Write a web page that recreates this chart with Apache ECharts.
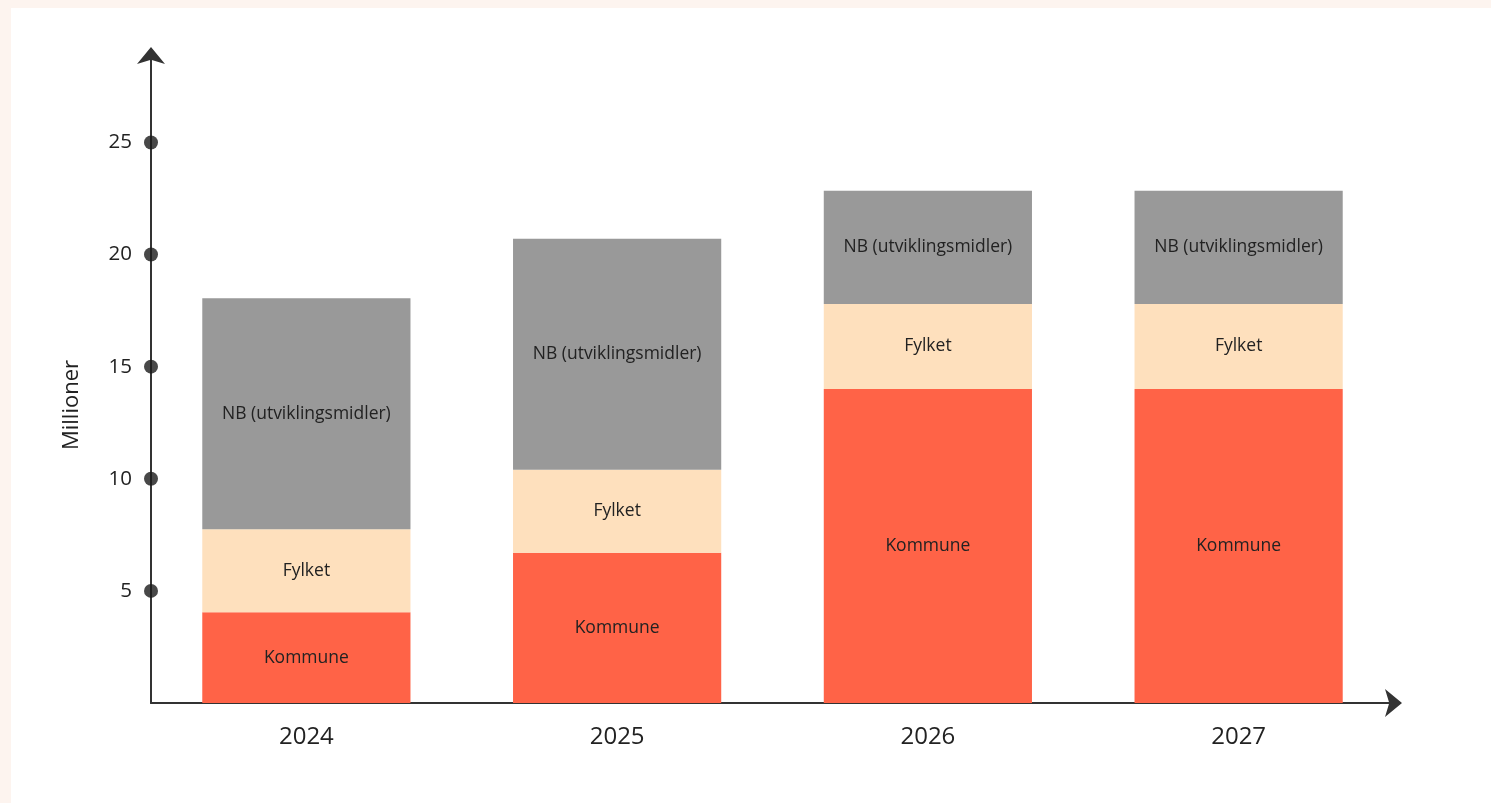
<!DOCTYPE html>
<html>
<head>
<meta charset="utf-8">
<script src="https://cdn.jsdelivr.net/npm/echarts@6/dist/echarts.min.js"></script>
<style>
  html, body { margin: 0; padding: 0; background: #fdf4ef; }
  #panel { position: absolute; left: 11px; top: 8px; right: 0; bottom: 0; background: #ffffff; }
  #chart { position: absolute; left: 0; top: 0; width: 1491px; height: 803px; }
</style>
</head>
<body>
<div id="panel"></div>
<div id="chart"></div>
<script>
const categories = ['2024', '2025', '2026', '2027'];
const kommune = [4.05, 6.7, 14.0, 14.0];
const fylket = [3.7, 3.7, 3.8, 3.8];
const nb = [10.3, 10.3, 5.05, 5.05];
const tickValues = [5, 10, 15, 20, 25];
const seriesNames = ['Kommune', 'Fylket', 'NB (utviklingsmidler)'];

const chart = echarts.init(document.getElementById('chart'), null, { renderer: 'canvas' });
const font = '"Open Sans", "Noto Sans", sans-serif';
const labelStyle = { show: true, position: 'inside', color: '#222', fontSize: 17.5, fontFamily: font };

chart.setOption({
  backgroundColor: 'transparent',
  textStyle: { fontFamily: font },
  animation: false,
  grid: { left: 151, right: 97, top: 55, bottom: 100, containLabel: false },
  xAxis: [{
    type: 'category',
    data: categories,
    boundaryGap: true,
    axisLine: { show: true, lineStyle: { color: '#333', width: 2 }, symbol: ['none', 'arrow'], symbolSize: [21, 17], symbolOffset: [0, 8] },
    axisTick: { show: false },
    axisLabel: { color: '#222', fontSize: 24, margin: 22, fontFamily: font }
  }, {
    type: 'value', min: 0, max: 1, show: false
  }],
  yAxis: {
    type: 'value',
    min: 0,
    max: 28.9,
    interval: 5,
    name: 'Millioner',
    nameLocation: 'middle',
    nameGap: 68,
    nameTextStyle: { color: '#222', fontSize: 22, fontFamily: font, padding: [0, 52, 0, 0] },
    axisLine: { show: true, lineStyle: { color: '#333', width: 2 }, symbol: ['none', 'arrow'], symbolSize: [21, 17], symbolOffset: [0, 8] },
    axisTick: { show: false },
    splitLine: { show: false },
    axisLabel: {
      color: '#222', fontSize: 20.5, margin: 19, fontFamily: font,
      showMaxLabel: false,
      formatter: v => (v > 0 && v % 5 === 0) ? String(v) : ''
    }
  },
  series: [
    { name: seriesNames[0], type: 'bar', stack: 'total', data: kommune, barWidth: '67%',
      itemStyle: { color: '#ff6347' }, label: Object.assign({ formatter: seriesNames[0] }, labelStyle) },
    { name: seriesNames[1], type: 'bar', stack: 'total', data: fylket, barWidth: '67%',
      itemStyle: { color: '#fee0bd' }, label: Object.assign({ formatter: seriesNames[1] }, labelStyle) },
    { name: seriesNames[2], type: 'bar', stack: 'total', data: nb, barWidth: '67%',
      itemStyle: { color: '#999999' }, label: Object.assign({ formatter: seriesNames[2] }, labelStyle) },
    { type: 'scatter', xAxisIndex: 1, data: tickValues.map(v => [0, v]), symbolSize: 14,
      itemStyle: { color: '#1a1a1a' }, z: 5, silent: true }
  ]
});
</script>
</body>
</html>
